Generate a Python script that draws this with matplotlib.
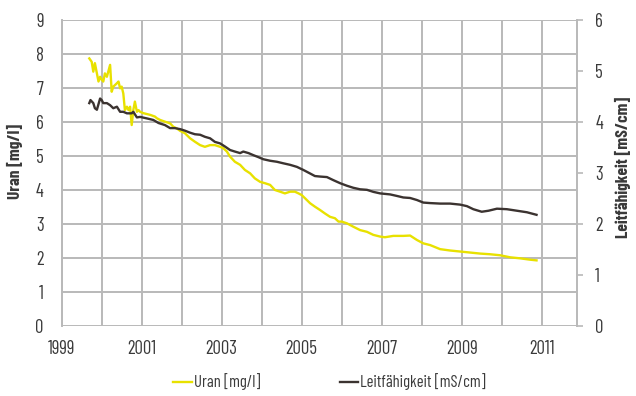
import matplotlib
matplotlib.use("Agg")
import matplotlib.pyplot as plt
from matplotlib.ticker import MultipleLocator

# Uranium concentration [mg/l] over time (decimal years)
uran_years = [1999.69, 1999.75, 1999.79, 1999.83, 1999.88, 1999.92, 1999.96, 2000.00,
              2000.04, 2000.08, 2000.13, 2000.21, 2000.25, 2000.29, 2000.38, 2000.42,
              2000.46, 2000.50, 2000.54, 2000.58, 2000.63, 2000.67, 2000.71, 2000.75,
              2000.79, 2000.83, 2000.88, 2000.92, 2000.96, 2001.04, 2001.21, 2001.33,
              2001.38, 2001.46, 2001.58, 2001.71, 2001.79, 2001.88, 2001.96, 2002.08,
              2002.21, 2002.33, 2002.46, 2002.58, 2002.71, 2002.83, 2002.96, 2003.04,
              2003.13, 2003.21, 2003.33, 2003.46, 2003.58, 2003.71, 2003.83, 2003.96,
              2004.08, 2004.21, 2004.33, 2004.46, 2004.58, 2004.71, 2004.83, 2004.92,
              2005.00, 2005.08, 2005.21, 2005.33, 2005.46, 2005.58, 2005.71, 2005.83,
              2005.92, 2006.00, 2006.13, 2006.29, 2006.46, 2006.63, 2006.79, 2006.96,
              2007.08, 2007.29, 2007.54, 2007.71, 2007.88, 2008.04, 2008.21, 2008.46,
              2008.71, 2008.96, 2009.21, 2009.46, 2009.71, 2009.96, 2010.21, 2010.46,
              2010.71, 2010.87]
uran_values = [7.87, 7.77, 7.48, 7.73, 7.43, 7.19, 7.33, 7.24,
               7.19, 7.43, 7.33, 7.68, 6.89, 7.04, 7.14, 7.19,
               6.99, 7.04, 6.84, 6.35, 6.45, 6.35, 6.45, 5.91,
               6.35, 6.60, 6.30, 6.35, 6.30, 6.26, 6.21, 6.16,
               6.11, 6.06, 6.01, 5.96, 5.86, 5.81, 5.74, 5.67,
               5.52, 5.42, 5.32, 5.27, 5.32, 5.32, 5.27, 5.23,
               5.13, 4.98, 4.83, 4.74, 4.59, 4.49, 4.34, 4.24,
               4.20, 4.15, 4.00, 3.95, 3.90, 3.95, 3.95, 3.90,
               3.85, 3.76, 3.61, 3.51, 3.41, 3.31, 3.21, 3.17,
               3.07, 3.07, 3.02, 2.92, 2.82, 2.77, 2.68, 2.63,
               2.61, 2.65, 2.65, 2.66, 2.53, 2.43, 2.38, 2.26,
               2.22, 2.19, 2.16, 2.13, 2.11, 2.08, 2.02, 1.99,
               1.95, 1.93]

# Electrical conductivity [mS/cm] over time (decimal years)
leit_years = [1999.69, 1999.72, 1999.79, 1999.83, 1999.88, 1999.92, 1999.96, 2000.00,
              2000.04, 2000.13, 2000.21, 2000.29, 2000.38, 2000.46, 2000.54, 2000.63,
              2000.75, 2000.79, 2000.88, 2000.96, 2001.13, 2001.29, 2001.42, 2001.58,
              2001.71, 2001.83, 2001.96, 2002.08, 2002.21, 2002.33, 2002.46, 2002.58,
              2002.71, 2002.83, 2002.96, 2003.08, 2003.21, 2003.33, 2003.46, 2003.54,
              2003.67, 2003.79, 2003.92, 2004.04, 2004.21, 2004.38, 2004.54, 2004.71,
              2004.88, 2005.04, 2005.21, 2005.33, 2005.46, 2005.63, 2005.79, 2005.96,
              2006.13, 2006.29, 2006.46, 2006.63, 2006.79, 2006.96, 2007.21, 2007.38,
              2007.54, 2007.71, 2007.88, 2008.04, 2008.21, 2008.46, 2008.71, 2008.96,
              2009.13, 2009.29, 2009.50, 2009.67, 2009.88, 2010.13, 2010.38, 2010.63,
              2010.87]
leit_values = [4.37, 4.43, 4.37, 4.27, 4.24, 4.35, 4.46, 4.43,
               4.37, 4.37, 4.33, 4.27, 4.30, 4.20, 4.20, 4.17,
               4.17, 4.20, 4.09, 4.10, 4.07, 4.04, 3.98, 3.94,
               3.88, 3.88, 3.86, 3.83, 3.79, 3.76, 3.75, 3.71,
               3.68, 3.61, 3.58, 3.52, 3.45, 3.42, 3.39, 3.42,
               3.39, 3.35, 3.31, 3.27, 3.24, 3.22, 3.19, 3.16,
               3.12, 3.06, 2.99, 2.94, 2.93, 2.92, 2.86, 2.80,
               2.75, 2.71, 2.68, 2.67, 2.63, 2.60, 2.58, 2.55,
               2.52, 2.51, 2.47, 2.42, 2.41, 2.40, 2.40, 2.38,
               2.35, 2.29, 2.24, 2.26, 2.30, 2.29, 2.26, 2.23,
               2.18]

x_tick_years = [1999, 2001, 2003, 2005, 2007, 2009, 2011]
uran_label = "Uran [mg/l]"
leit_label = "Leitfähigkeit [mS/cm]"

YELLOW = "#e8e100"
DARK = "#3b3330"
GRID = "#b9b9b9"
TEXT = "#3a3a3a"
FONT = ["Barlow Condensed", "DejaVu Sans"]

plt.rcParams["font.family"] = FONT
plt.rcParams["text.color"] = TEXT

fig = plt.figure(figsize=(6.36, 3.96), dpi=100)
ax = fig.add_axes([0.097, 0.1768, 0.8098, 0.7727])
ax2 = ax.twinx()

ax.set_xlim(1999, 2011.875)
ax.set_ylim(0, 9)
ax2.set_ylim(0, 6)

ax.set_xticks(range(1999, 2012))
ax.set_xticklabels([str(y) if y in x_tick_years else "" for y in range(1999, 2012)])
ax.yaxis.set_major_locator(MultipleLocator(1))
ax2.yaxis.set_major_locator(MultipleLocator(1))

ax.grid(True, color=GRID, linewidth=1.4)
ax.set_axisbelow(True)

for a in (ax, ax2):
    for s in a.spines.values():
        s.set_visible(False)
ax.spines["left"].set_visible(True)
ax.spines["left"].set_color(GRID)
ax.spines["left"].set_linewidth(1.4)
ax2.spines["right"].set_visible(True)
ax2.spines["right"].set_color(GRID)
ax2.spines["right"].set_linewidth(1.4)

ax.tick_params(axis="y", length=0, pad=13, labelsize=13.5, labelcolor=TEXT)
ax.tick_params(axis="x", length=0, pad=10, labelsize=13.5, labelcolor=TEXT)
ax2.tick_params(axis="y", length=4.3, width=1.2, color=GRID, pad=9, labelsize=13.5,
                labelcolor=TEXT)

l1, = ax.plot(uran_years, uran_values, color=YELLOW, linewidth=1.7,
              solid_joinstyle="round", zorder=3)
l2, = ax2.plot(leit_years, leit_values, color=DARK, linewidth=1.7,
               solid_joinstyle="round", zorder=3)

fig.text(0.024, 1 - 161 / 396, uran_label, rotation=90, ha="center", va="center",
         fontsize=12.5, fontweight="bold", color=TEXT)
fig.text(0.979, 1 - 167 / 396, leit_label, rotation=90, ha="center", va="center",
         fontsize=12.5, fontweight="bold", color=TEXT)

fig.legend([l1, l2], [uran_label, leit_label], loc="center",
           bbox_to_anchor=(329.5 / 636, 1 - 382 / 396), ncol=2, frameon=False,
           fontsize=12, handlelength=1.1, handletextpad=0.12, columnspacing=4.8,
           borderaxespad=0)

fig.savefig("out.png", dpi=100)
